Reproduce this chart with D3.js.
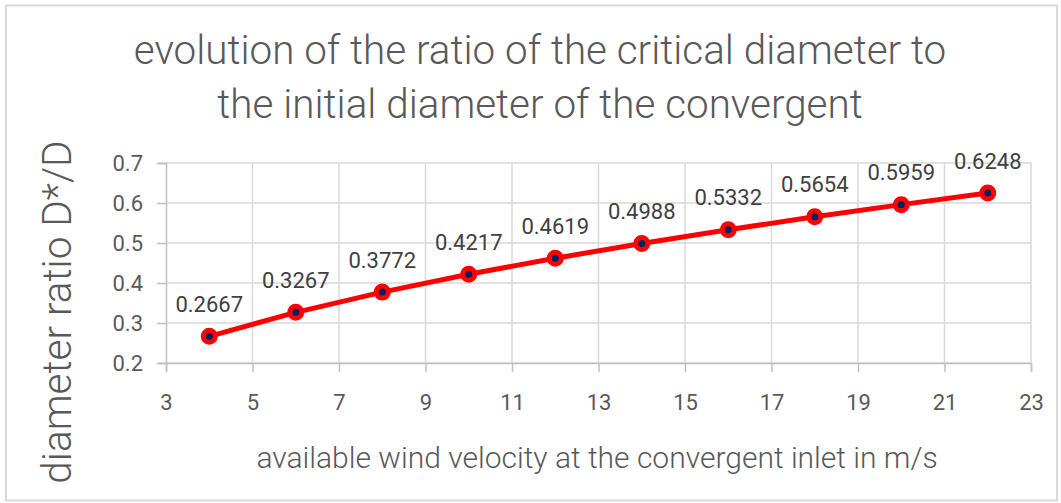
<!DOCTYPE html>
<html>
<head>
<meta charset="utf-8">
<script src="https://cdn.jsdelivr.net/npm/d3@7"></script>
<style>
  body { margin: 0; background: #fff; }
  text { font-family: Roboto, "Liberation Sans", sans-serif; }
</style>
</head>
<body>
<script>
// chart data
var velocity = [4, 6, 8, 10, 12, 14, 16, 18, 20, 22];
var ratio = [0.2667, 0.3267, 0.3772, 0.4217, 0.4619, 0.4988, 0.5332, 0.5654, 0.5959, 0.6248];
var xTicks = [3, 5, 7, 9, 11, 13, 15, 17, 19, 21, 23];
var yTicks = [0.2, 0.3, 0.4, 0.5, 0.6, 0.7];
var titleLines = ["evolution of the ratio of the critical diameter to", "the initial diameter of the convergent"];

var w = 1061, h = 503;
var svg = d3.select("body").append("svg")
    .attr("width", w)
    .attr("height", h);

// outer chart border
svg.append("rect")
    .attr("x", 6).attr("y", 5.5)
    .attr("width", w - 10).attr("height", h - 8)
    .attr("fill", "#fff")
    .attr("stroke", "#d9d9d9")
    .attr("stroke-width", 2);

var x = d3.scaleLinear().domain([3, 23]).range([166, 1031]);
var y = d3.scaleLinear().domain([0.2, 0.7]).range([363, 163]);

// gridlines
svg.selectAll(".hgrid").data(yTicks).enter().append("line")
    .attr("x1", x(3)).attr("x2", x(23))
    .attr("y1", function(d) { return y(d); })
    .attr("y2", function(d) { return y(d); })
    .attr("stroke", "#d9d9d9").attr("stroke-width", 1.5);

svg.selectAll(".vgrid").data(xTicks.slice(1)).enter().append("line")
    .attr("y1", y(0.2)).attr("y2", y(0.7))
    .attr("x1", function(d) { return x(d); })
    .attr("x2", function(d) { return x(d); })
    .attr("stroke", "#d9d9d9").attr("stroke-width", 1.5);

// axes
var xAxis = svg.append("g")
    .attr("transform", "translate(0," + y(0.2) + ")")
    .call(d3.axisBottom(x).tickValues(xTicks).tickSize(9).tickPadding(22).tickFormat(d3.format("d")));
var yAxis = svg.append("g")
    .attr("transform", "translate(" + x(3) + ",0)")
    .call(d3.axisLeft(y).tickValues(yTicks).tickSize(9).tickPadding(14).tickFormat(d3.format(".1f")));

[xAxis, yAxis].forEach(function(g) {
    g.select(".domain").attr("stroke", "#bfbfbf").attr("stroke-width", 1.5);
    g.selectAll(".tick line").attr("stroke", "#bfbfbf").attr("stroke-width", 1.5);
    g.selectAll(".tick text").attr("fill", "#595959").attr("font-size", "22px")
        .attr("font-family", "Roboto, sans-serif");
});

// line
var line = d3.line()
    .x(function(d, i) { return x(velocity[i]); })
    .y(function(d) { return y(d); });

svg.append("path")
    .datum(ratio)
    .attr("d", line)
    .attr("fill", "none")
    .attr("stroke", "#ff0000")
    .attr("stroke-width", 5)
    .attr("stroke-linejoin", "round");

// markers
svg.selectAll(".pt").data(ratio).enter().append("circle")
    .attr("cx", function(d, i) { return x(velocity[i]); })
    .attr("cy", function(d) { return y(d); })
    .attr("r", 6)
    .attr("fill", "#002060")
    .attr("stroke", "#ff0000")
    .attr("stroke-width", 5);

// data labels
svg.selectAll(".lbl").data(ratio).enter().append("text")
    .attr("x", function(d, i) { return x(velocity[i]); })
    .attr("y", function(d) { return y(d) - 24.5; })
    .attr("text-anchor", "middle")
    .attr("font-size", "22px")
    .attr("fill", "#404040")
    .text(function(d) { return d.toFixed(4); });

// title
svg.selectAll(".title").data(titleLines).enter().append("text")
    .attr("x", 540)
    .attr("y", function(d, i) { return 64 + i * 54; })
    .attr("text-anchor", "middle")
    .attr("font-size", "40.4px")
    .attr("font-weight", 300)
    .attr("fill", "#595959")
    .text(function(d) { return d; });

// axis titles
svg.append("text")
    .attr("x", 597).attr("y", 468)
    .attr("text-anchor", "middle")
    .attr("font-size", "30px")
    .attr("font-weight", 300)
    .attr("fill", "#595959")
    .text("available wind velocity at the convergent inlet in m/s");

svg.append("text")
    .attr("transform", "translate(71,312) rotate(-90)")
    .attr("text-anchor", "middle")
    .attr("font-size", "40.5px")
    .attr("font-weight", 300)
    .attr("fill", "#595959")
    .text("diameter ratio D*/D");
</script>
</body>
</html>
